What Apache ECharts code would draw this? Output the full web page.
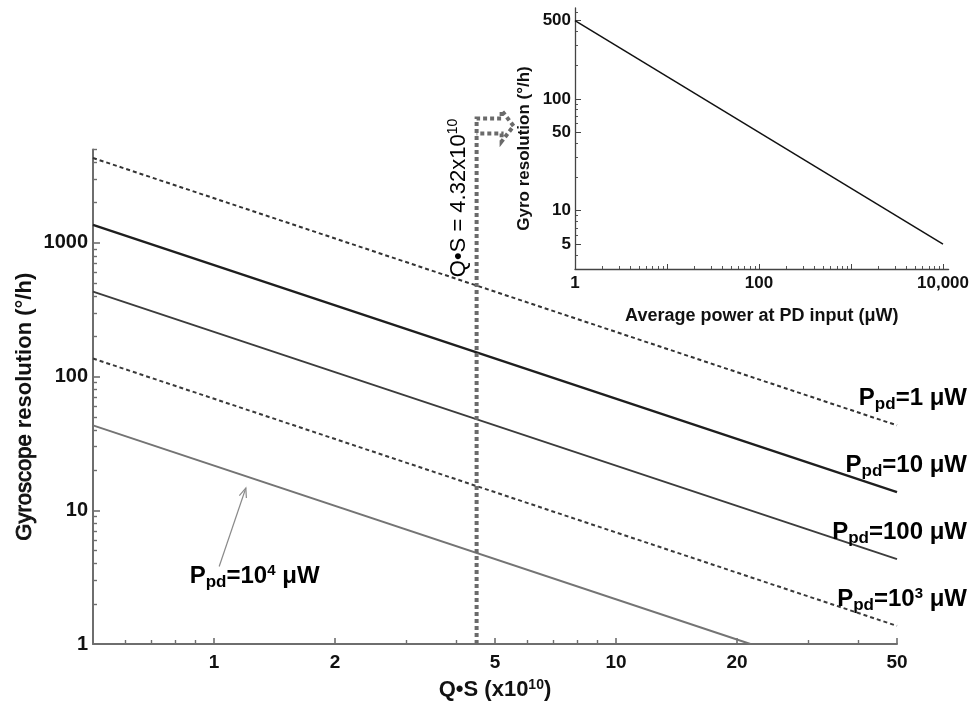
<!DOCTYPE html>
<html><head><meta charset="utf-8">
<script src="https://cdn.jsdelivr.net/npm/echarts@6/dist/echarts.min.js"></script>
<style>html,body{margin:0;padding:0;background:#fff}#c{width:972px;height:706px}</style>
</head><body><div id="c"></div>
<script>
// ---- data ----
const qs = [0.5, 50];                 // Q·S (x10^10)
const resP1 = [4320, 43.2];
const resP10 = [1366, 13.66];
const resP100 = [432, 4.32];
const resP1000 = [136.6, 1.366];
const qsP1e4 = [0.5, 21.6];
const resP1e4 = [43.2, 1];
const insetPower = [1, 10000];        // µW
const insetRes = [500, 5];            // °/h
const qsMarker = 4.5;                 // dotted marker position as drawn

// ---- tick values ----
const xLabels = [1, 2, 5, 10, 20, 50];
const xMinor = [0.6, 0.7, 0.8, 0.9, 3, 4, 6, 7, 8, 9, 30, 40];
const yLabels = [1, 10, 100, 1000];
const yMinor = [2,3,4,5,6,7,8,9,20,30,40,50,60,70,80,90,200,300,400,500,600,700,800,900,2000,3000,4000,5000];
const insetXLabels = [1, 100, 10000];
const insetXMajor = [1, 10, 100, 1000, 10000];
const insetXMinor = [2,3,4,5,6,7,8,9,20,30,40,50,60,70,80,90,200,300,400,500,600,700,800,900,2000,3000,4000,5000,6000,7000,8000,9000];
const insetYLabels = [5, 10, 50, 100, 500];
const insetYMinor = [3,4,6,7,8,9,20,30,40,60,70,80,90,200,300,400,600];

const lineLabels = [
  {sup: '', num: '1'}, {sup: '', num: '10'}, {sup: '', num: '100'}, {sup: '3', num: '10'}
];

const FF = '"Liberation Sans", Arial, Helvetica, sans-serif';
const chart = echarts.init(document.getElementById('c'), null, {renderer: 'canvas'});

function zip(a, b) { return a.map((v, i) => [v, b[i]]); }
function fmt(v) { return Number(v) >= 10000 ? Number(v).toLocaleString('en-US') : String(Number(v)); }

function axisCfg(o) {
  const base = {
    type: 'log', logBase: 10, gridIndex: o.grid, min: o.min, max: o.max, position: o.pos,
    splitLine: {show: false}, minorTick: {show: false}, minorSplitLine: {show: false},
    axisPointer: {show: false}, silent: true
  };
  if (o.major) {
    return Object.assign(base, {
      axisLine: {show: true, lineStyle: {color: o.lineColor, width: o.lineWidth}},
      axisTick: {show: true, inside: true, length: o.tickLen, customValues: o.ticks,
                 lineStyle: {color: o.lineColor, width: o.lineWidth * 0.8}},
      axisLabel: {show: true, customValues: o.labels, formatter: fmt, margin: o.margin,
                  fontFamily: FF, fontWeight: 'bold', fontSize: o.fontSize, color: '#111'},
      name: o.name, nameLocation: 'middle', nameGap: o.nameGap, nameRotate: o.nameRotate,
      nameMoveOverlap: o.nameMoveOverlap !== undefined ? o.nameMoveOverlap : true,
      nameTextStyle: o.nameStyle
    });
  }
  return Object.assign(base, {
    axisLine: {show: false},
    axisTick: {show: true, inside: true, length: o.tickLen, customValues: o.ticks,
               lineStyle: {color: o.lineColor, width: o.lineWidth * 0.7}},
    axisLabel: {show: false}
  });
}

const mainAxisColor = '#6e6e6e', insetAxisColor = '#444';

const option = {
  animation: false,
  backgroundColor: '#fff',
  grid: [
    {left: 93, right: 75, top: 149.5, bottom: 62},
    {left: 575, right: 21, top: 8, bottom: 437}
  ],
  xAxis: [
    axisCfg({grid: 0, min: 0.5, max: 50, pos: 'bottom', major: true, lineColor: mainAxisColor, lineWidth: 2,
      tickLen: 6, ticks: xLabels, labels: xLabels, margin: 9, fontSize: 19,
      name: '{a|Q•S (x10}{s|10}{a|)}', nameGap: 34,
      nameStyle: {rich: {a: {fontFamily: FF, fontWeight: 'bold', fontSize: 22, color: '#111'},
                         s: {fontFamily: FF, fontWeight: 'bold', fontSize: 14, color: '#111', padding: [0, 0, 10, 0]}}}}),
    axisCfg({grid: 0, min: 0.5, max: 50, pos: 'bottom', major: false, lineColor: mainAxisColor, lineWidth: 2,
      tickLen: 4, ticks: xMinor}),
    axisCfg({grid: 1, min: 1, max: 11500, pos: 'bottom', major: true, lineColor: insetAxisColor, lineWidth: 1.3,
      tickLen: 5, ticks: insetXMajor, labels: insetXLabels, margin: 6, fontSize: 17,
      name: 'Average power at PD input (μW)', nameGap: 38,
      nameStyle: {fontFamily: FF, fontWeight: 'bold', fontSize: 18, color: '#111'}}),
    axisCfg({grid: 1, min: 1, max: 11500, pos: 'bottom', major: false, lineColor: insetAxisColor, lineWidth: 1.3,
      tickLen: 3, ticks: insetXMinor})
  ],
  yAxis: [
    axisCfg({grid: 0, min: 1, max: 5000, pos: 'left', major: true, lineColor: mainAxisColor, lineWidth: 2,
      tickLen: 7, ticks: yLabels, labels: yLabels, margin: 5, fontSize: 20,
      name: '{n|Gyroscope }{b|resolution (°/h)}', nameGap: 57, nameRotate: 90, nameMoveOverlap: false,
      nameStyle: {padding: [0, 20, 0, 0],
                  rich: {n: {fontFamily: FF, fontWeight: 'normal', fontSize: 22, color: '#111',
                             textBorderColor: '#111', textBorderWidth: 0.9},
                         b: {fontFamily: FF, fontWeight: 'bold', fontSize: 22, color: '#111'}}}}),
    axisCfg({grid: 0, min: 1, max: 5000, pos: 'left', major: false, lineColor: mainAxisColor, lineWidth: 2,
      tickLen: 4, ticks: yMinor}),
    axisCfg({grid: 1, min: 3, max: 650, pos: 'left', major: true, lineColor: insetAxisColor, lineWidth: 1.3,
      tickLen: 6, ticks: insetYLabels, labels: insetYLabels, margin: 4, fontSize: 17,
      name: 'Gyro resolution (°/h)', nameGap: 42, nameRotate: 90,
      nameStyle: {fontFamily: FF, fontWeight: 'bold', fontSize: 17, color: '#111', padding: [0, 20, 0, 0]}}),
    axisCfg({grid: 1, min: 3, max: 650, pos: 'left', major: false, lineColor: insetAxisColor, lineWidth: 1.3,
      tickLen: 3, ticks: insetYMinor})
  ],
  series: [
    {name: 'P1', data: zip(qs, resP1), lineStyle: {color: '#333', width: 2, type: [4, 3]}},
    {name: 'P10', data: zip(qs, resP10), lineStyle: {color: '#1e1e1e', width: 2.3}},
    {name: 'P100', data: zip(qs, resP100), lineStyle: {color: '#3c3c3c', width: 1.9}},
    {name: 'P1000', data: zip(qs, resP1000), lineStyle: {color: '#3a3a3a', width: 2, type: [4, 3]}},
    {name: 'P1e4', data: zip(qsP1e4, resP1e4), lineStyle: {color: '#747474', width: 1.9}},
    {name: 'inset', data: zip(insetPower, insetRes), xAxisIndex: 2, yAxisIndex: 2, lineStyle: {color: '#111', width: 1.5}}
  ].map(s => Object.assign({type: 'line', xAxisIndex: 0, yAxisIndex: 0, symbol: 'none', showSymbol: false,
                            clip: true, silent: true, z: 3}, s))
};
chart.setOption(option);

// ---- annotations anchored to the axes ----
const toPx = (v) => chart.convertToPixel({gridIndex: 0}, v);
const graphics = [];
const richP = {
  m: {fontFamily: FF, fontWeight: 'bold', fontSize: 24, color: '#111'},
  d: {fontFamily: FF, fontWeight: 'bold', fontSize: 17, color: '#111', padding: [12, 0, 0, 0]},
  u: {fontFamily: FF, fontWeight: 'bold', fontSize: 15, color: '#111', padding: [0, 0, 11, 0]}
};
const endVals = [resP1[1], resP10[1], resP100[1], resP1000[1]];
endVals.forEach((v, i) => {
  const p = toPx([qs[1], v]);
  const L = lineLabels[i];
  const txt = '{m|P}{d|pd}{m|=' + L.num + '}' + (L.sup ? '{u|' + L.sup + '}' : '') + '{m| μW}';
  graphics.push({type: 'text', x: p[0] + 70, y: p[1] - 27, z: 10,
    style: {text: txt, rich: richP, align: 'right', verticalAlign: 'middle'}});
});

// P=10^4 label with pointer arrow
const lab4 = toPx([0.87, 3.2]);
graphics.push({type: 'text', x: lab4[0], y: lab4[1], z: 10,
  style: {text: '{m|P}{d|pd}{m|=10}{u|4}{m| μW}', rich: richP, align: 'left', verticalAlign: 'middle'}});
const tail = toPx([1.03, 3.8]), tip = toPx([1.2, 14.7]);
const ang = Math.atan2(tip[1] - tail[1], tip[0] - tail[0]);
const ah = 10, aw = 0.38;
graphics.push({type: 'line', z: 10, shape: {x1: tail[0], y1: tail[1], x2: tip[0], y2: tip[1]},
  style: {stroke: '#8a8a8a', lineWidth: 1.2}});
graphics.push({type: 'polyline', z: 10, shape: {points: [
    [tip[0] - ah * Math.cos(ang - aw), tip[1] - ah * Math.sin(ang - aw)], tip,
    [tip[0] - ah * Math.cos(ang + aw), tip[1] - ah * Math.sin(ang + aw)]]},
  style: {stroke: '#8a8a8a', lineWidth: 1.2, fill: null}});

// dotted Q·S marker with hollow arrow
const mb = toPx([qsMarker, 1]);
const gridTopPx = 149.5;
const arrowTop = gridTopPx - 31;
const mx = mb[0];
graphics.push({type: 'polyline', z: 8, shape: {points: [
    [mx, mb[1]], [mx, arrowTop], [mx + 25, arrowTop], [mx + 25, arrowTop - 8], [mx + 37, arrowTop + 7.5],
    [mx + 25, arrowTop + 23], [mx + 25, arrowTop + 15], [mx, arrowTop + 15]]},
  style: {stroke: '#6a6a6a', lineWidth: 4, lineDash: [4, 3], fill: null, lineCap: 'butt'}});
graphics.push({type: 'text', x: mx - 18, y: 198, rotation: Math.PI / 2, z: 10,
  style: {text: '{a|Q•S = 4.32x10}{s|10}',
    rich: {a: {fontFamily: FF, fontSize: 22, color: '#111'},
           s: {fontFamily: FF, fontSize: 14, color: '#111', padding: [0, 0, 10, 0]}},
    align: 'center', verticalAlign: 'middle'}});

chart.setOption({graphic: graphics});
</script>
</body></html>
